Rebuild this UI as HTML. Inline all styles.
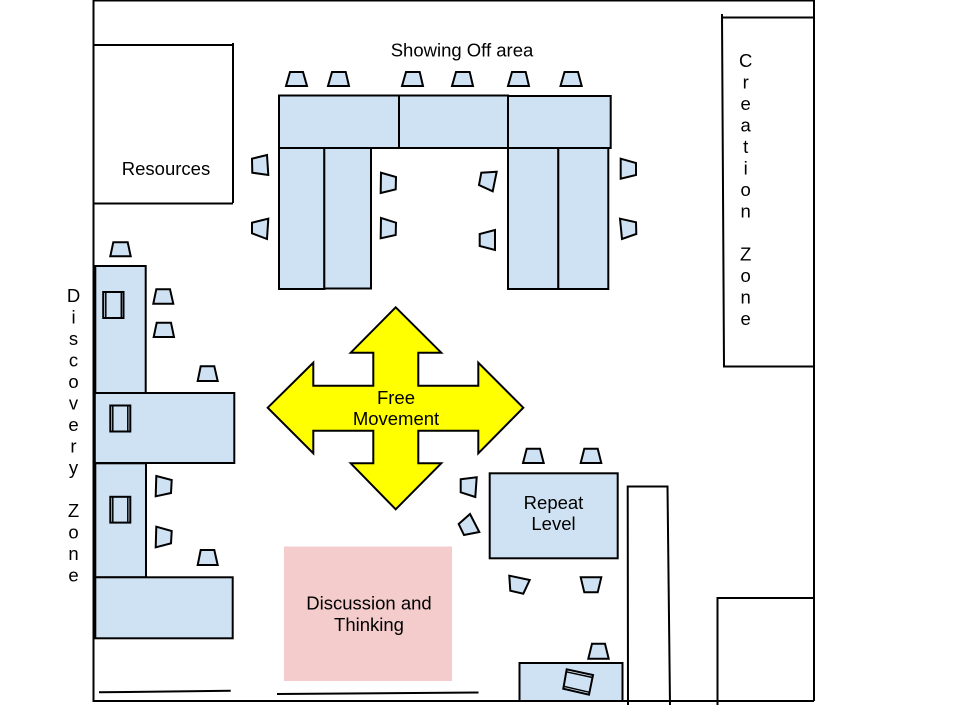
<!DOCTYPE html>
<html><head><meta charset="utf-8"><style>
html,body{margin:0;padding:0;background:#fff;width:960px;height:720px;overflow:hidden}
svg{display:block}
text{font-family:"Liberation Sans",sans-serif;font-size:18.5px;fill:#000;text-anchor:middle}
.t{fill:#cfe2f3;stroke:#000;stroke-width:2}
.c{fill:#cfe2f3;stroke:#000;stroke-width:2;stroke-linejoin:miter}
.l{fill:none;stroke:#000;stroke-width:2}
.m{fill:none;stroke:#000;stroke-width:1.5}
</style></head><body>
<svg width="960" height="720" viewBox="0 0 960 720" xmlns="http://www.w3.org/2000/svg">
<rect x="284" y="546.5" width="168" height="134.5" fill="#f4cccc"/>
<path class="l" d="M93.5 0V701H814M814 0V701M93 0.5H814"/>
<path class="l" d="M93 45H233M233 43V203M93 203.5H233"/>
<path class="l" d="M722 14L724 366.5H814M722 17.5H814"/>
<path class="l" d="M717.500 705V598H814"/>
<path class="l" d="M628 705L627.700 486.500H667.500L670 705"/>
<path class="l" d="M99 692.300L230.700 690.700M277 694L478.500 692.500"/>

<g class="tables">
<rect class="t" x="279" y="95.500" width="120" height="52.500"/>
<rect class="t" x="399" y="95.500" width="109" height="52.500"/>
<rect class="t" x="508" y="96" width="102.700" height="52"/>
<rect class="t" x="279" y="148" width="45.300" height="141"/>
<rect class="t" x="324.300" y="148" width="46.700" height="140.500"/>
<rect class="t" x="508" y="148" width="50.300" height="141"/>
<rect class="t" x="558.300" y="148" width="50" height="141"/>
<rect class="t" x="95.300" y="266" width="50.400" height="127"/>
<rect class="t" x="93.500" y="393" width="140.800" height="70"/>
<rect class="t" x="95.300" y="463.300" width="50.700" height="114"/>
<rect class="t" x="95.300" y="577.300" width="137.400" height="61"/>
<rect class="t" x="489.700" y="473.300" width="128" height="85"/>
<rect class="t" x="519.500" y="663" width="103" height="38"/>
</g>
<path d="M94.300 266V638" fill="none" stroke="#000" stroke-width="3"/>

<g class="chairs">
<polygon class="c" points="286,86 307,86 303,72 290,72"/>
<polygon class="c" points="328,86 349,86 345.700,72 332,72"/>
<polygon class="c" points="402,86 423,86 419.700,72 406,72"/>
<polygon class="c" points="452,86 473,86 469.700,72 456,72"/>
<polygon class="c" points="508,86 529,86 525.700,72 512,72"/>
<polygon class="c" points="560.500,86 581.700,86 578,72 564.500,72"/>
<polygon class="c" points="252,158.700 267,155 268.300,175 252.300,172.700"/>
<polygon class="c" points="252,222.700 268.300,218.700 267,239 252,233.300"/>
<polygon class="c" points="381,172.700 396,177 395.700,189.300 380.700,193"/>
<polygon class="c" points="381,218 396,222.700 395.700,235 380.700,238.300"/>
<polygon class="c" points="496.700,171.700 481.300,172.700 479,185 492.700,191.300"/>
<polygon class="c" points="495,230 479.700,234 479.700,246 495,250"/>
<polygon class="c" points="620.700,158.700 636,163 636,175 620.700,178.700"/>
<polygon class="c" points="620,218.700 636,222.300 636.300,234 622,239"/>
<polygon class="c" points="110.300,256.300 130.700,256.300 127.700,242.300 113.300,242.300"/>
<polygon class="c" points="153.300,303.700 173.300,303.700 170,289.300 156.300,289.300"/>
<polygon class="c" points="153.700,337 174,337 171,322.700 156.700,322.700"/>
<polygon class="c" points="197.700,381 217.700,381 214.300,366.300 200.700,366.300"/>
<polygon class="c" points="156.300,476 171.700,480 171,493 155.700,496.300"/>
<polygon class="c" points="156.300,526.700 171.700,531 171,543.300 155.700,547.300"/>
<polygon class="c" points="197.700,565 217.700,565 214.300,550 200.700,550"/>
<polygon class="c" points="523,463 543.700,463 540,448.700 526.700,448.700"/>
<polygon class="c" points="580.700,463 601.300,463 597.700,448.700 584.300,448.700"/>
<polygon class="c" points="460.700,479.300 476.700,477.300 475.300,497 460.700,492.300"/>
<polygon class="c" points="470,514 479.300,532 464,535 458.700,524"/>
<polygon class="c" points="509.300,575.700 529.700,580 523.300,593.700 510.300,590.700"/>
<polygon class="c" points="580.700,577.300 601.300,577.300 597.700,592.300 584.300,592.300"/>
<polygon class="c" points="588.300,658.700 608.700,658.700 605,643.700 592,643.700"/>
</g>

<g class="monitors">
<rect class="t" x="103.200" y="292" width="20.300" height="26"/>
<path class="m" d="M105.800 292V318M121.300 292V318"/>
<rect class="t" x="110.300" y="405.500" width="20" height="26"/>
<path class="m" d="M112.800 405.500V431.500M127.800 405.500V431.500"/>
<rect class="t" x="110.300" y="496.800" width="20" height="25.800"/>
<path class="m" d="M112.800 496.800V522.600M127.800 496.800V522.600"/>
<polygon class="c" points="566.700,669.300 593,675 589,694.700 563.300,688.700"/>
<path class="m" d="M566.200 671.800L592.500 677.500M563.800 686.300L589.500 692.300"/>
</g>

<polygon points="395.700,307.300 441.300,352.700 418.300,352.700 418.300,385.700 478.300,385.700 478.300,362.700 523.300,407.700 478.300,453.300 478.300,430.700 418.300,430.700 418.300,463.300 441.300,463.300 395.700,509.300 350.700,463.300 373.300,463.300 373.300,430.700 313.300,430.700 313.300,453.300 267.700,407.700 313.300,362.700 313.300,385.700 373.300,385.700 373.300,352.700 350.700,352.700" fill="#ffff00" stroke="#000" stroke-width="2"/>

<text x="462" y="56.500">Showing Off area</text>
<text x="166" y="175">Resources</text>
<text x="396" y="404">Free</text>
<text x="396" y="425">Movement</text>
<text x="553.500" y="509">Repeat</text>
<text x="553.500" y="530">Level</text>
<text x="369" y="609.500">Discussion and</text>
<text x="369" y="631">Thinking</text>

<g>
<text x="73.500" y="302">D</text>
<text x="73.500" y="323.500">i</text>
<text x="73.500" y="345">s</text>
<text x="73.500" y="366.500">c</text>
<text x="73.500" y="388">o</text>
<text x="73.500" y="409.500">v</text>
<text x="73.500" y="431">e</text>
<text x="73.500" y="452.500">r</text>
<text x="73.500" y="474">y</text>
<text x="73.500" y="517">Z</text>
<text x="73.500" y="538.500">o</text>
<text x="73.500" y="560">n</text>
<text x="73.500" y="581.500">e</text>
</g>
<g>
<text x="745.700" y="67">C</text>
<text x="745.700" y="88.500">r</text>
<text x="745.700" y="110">e</text>
<text x="745.700" y="131.500">a</text>
<text x="745.700" y="153">t</text>
<text x="745.700" y="174.500">i</text>
<text x="745.700" y="196">o</text>
<text x="745.700" y="217.500">n</text>
<text x="745.700" y="260.500">Z</text>
<text x="745.700" y="282">o</text>
<text x="745.700" y="303.500">n</text>
<text x="745.700" y="325">e</text>
</g>
</svg>
</body></html>
